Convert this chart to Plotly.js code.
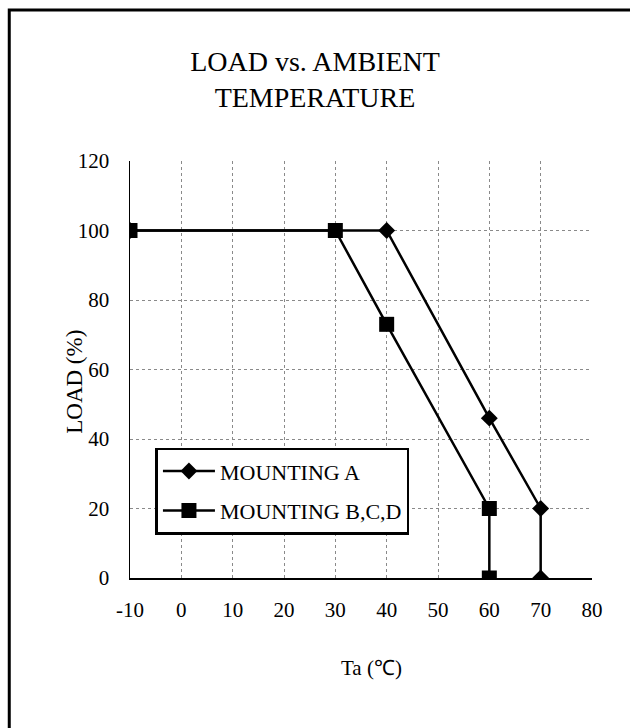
<!DOCTYPE html>
<html>
<head>
<meta charset="utf-8">
<script src="https://cdn.plot.ly/plotly-3.0.1.min.js"></script>
<style>html,body{margin:0;padding:0;background:#fff;}#chart{width:630px;height:728px;}</style>
</head>
<body>
<div id="chart"></div>
<script>
const seriesNames = ["MOUNTING A", "MOUNTING B,C,D"];
const tempA = [-10, 40, 60, 70, 70];
const loadA = [100, 100, 46, 20, 0];
const tempB = [-10, 30, 40, 60, 60];
const loadB = [100, 100, 73, 20, 0];
const xTicks = [-10, 0, 10, 20, 30, 40, 50, 60, 70, 80];
const yTicks = [0, 20, 40, 60, 80, 100, 120];
const xTitle = "Ta (℃)";
const yTitle = "LOAD (%)";

const W = 630, H = 728;
const M = {l: 129.5, r: 37.5, t: 161, b: 150.3};
const pw = W - M.l - M.r, ph = H - M.t - M.b;
const px = v => (v - M.l) / pw;
const py = v => (H - M.b - v) / ph;

const FONT = "Liberation Serif, Times New Roman, serif";

const traces = [
  {x: tempA, y: loadA, name: seriesNames[0], mode: "lines+markers", legendgroup: "a",
   line: {color: "#000", width: 2.5}, marker: {symbol: "diamond", size: 13, color: "#000"}},
  {x: tempB, y: loadB, name: seriesNames[1], mode: "lines+markers", legendgroup: "b",
   line: {color: "#000", width: 2.5}, marker: {symbol: "square", size: 15, color: "#000"}}
];

const layout = {
  width: W, height: H,
  margin: M,
  paper_bgcolor: "#fff", plot_bgcolor: "#fff",
  font: {family: FONT, color: "#000", size: 21},
  title: {text: "LOAD vs. AMBIENT<br>TEMPERATURE", font: {family: FONT, size: 28, color: "#000"},
          x: 0.5, xanchor: "center", y: 1 - 71 / H, yanchor: "middle"},
  showlegend: true,
  legend: {x: px(155), y: py(447.5), xanchor: "left", yanchor: "top",
           bgcolor: "#fff", bordercolor: "#000", borderwidth: 2.5,
           font: {family: FONT, size: 22, color: "#000"},
           traceorder: "grouped", tracegroupgap: 8, itemwidth: 52},
  xaxis: {range: [-10, 80], tickvals: xTicks, ticktext: xTicks.map(String),
          showgrid: true, gridcolor: "#8a8a8a", griddash: "dot", gridwidth: 1,
          zeroline: false, showline: true, linecolor: "#000", linewidth: 1.5,
          ticks: "outside", ticklen: 12, tickcolor: "rgba(0,0,0,0)",
          tickfont: {family: FONT, size: 21, color: "#000"}},
  yaxis: {range: [0, 120], tickvals: yTicks, ticktext: yTicks.map(String),
          showgrid: true, gridcolor: "#8a8a8a", griddash: "dot", gridwidth: 1,
          zeroline: false, showline: true, linecolor: "#000", linewidth: 1.5,
          ticks: "outside", ticklen: 15, tickcolor: "rgba(0,0,0,0)",
          tickfont: {family: FONT, size: 21, color: "#000"}},
  annotations: [
    {text: xTitle, xref: "paper", yref: "paper", x: px(372), y: py(668), xanchor: "center", yanchor: "middle",
     showarrow: false, font: {family: FONT, size: 21, color: "#000"}},
    {text: yTitle, xref: "paper", yref: "paper", x: px(74), y: py(382), xanchor: "center", yanchor: "middle",
     textangle: -90, showarrow: false, font: {family: FONT, size: 23, color: "#000"}}
  ],
  shapes: [
    {type: "rect", xref: "paper", yref: "paper", x0: px(8.5), x1: px(W + 20), y0: py(H + 20), y1: py(10),
     line: {color: "#000", width: 3}, fillcolor: "rgba(0,0,0,0)", layer: "above"}
  ]
};

Plotly.newPlot("chart", traces, layout, {displayModeBar: false, staticPlot: true});
</script>
</body>
</html>
